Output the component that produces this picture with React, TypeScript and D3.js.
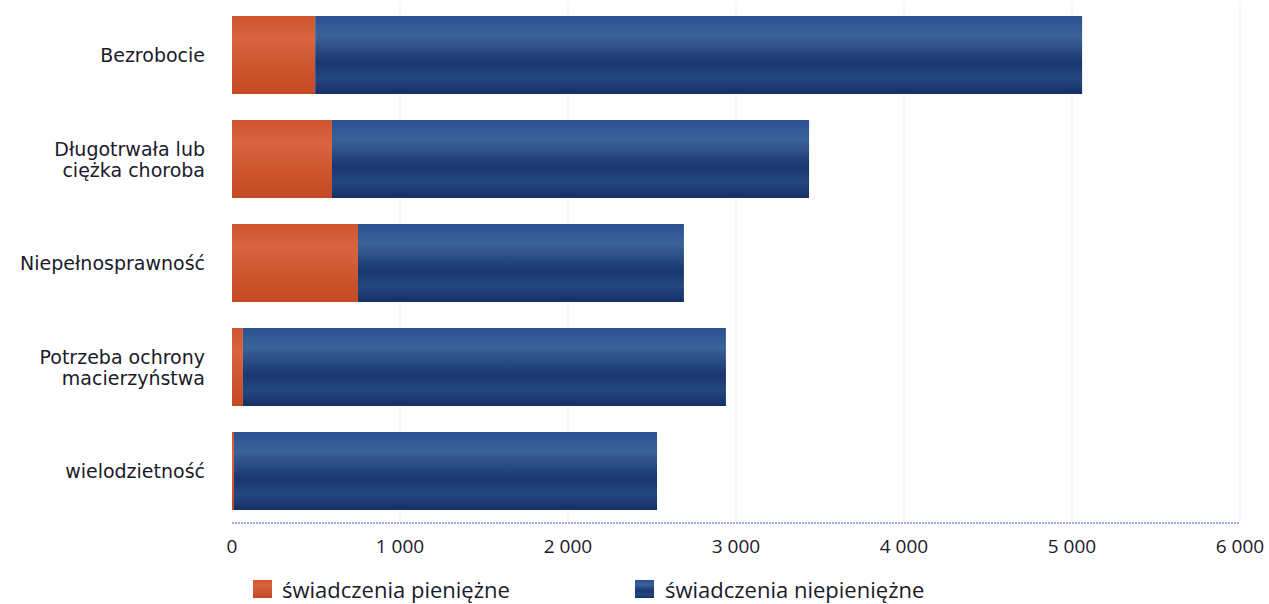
import React from "react";
import * as d3 from "d3";

const categories = ["Bezrobocie", "Długotrwała lub\nciężka choroba", "Niepełnosprawność", "Potrzeba ochrony\nmacierzyństwa", "wielodzietność"];
const cashValues = [495, 595, 750, 65, 12];
const nonCashValues = [4565, 2840, 1940, 2875, 2518];
const tickValues = [0, 1000, 2000, 3000, 4000, 5000, 6000];
const seriesNames = ["świadczenia pieniężne", "świadczenia niepieniężne"];

const W = 1269, H = 604;
const margin = { left: 232, right: 29, top: 3, bottom: 81 };

export default function App() {
  const x = d3.scaleLinear().domain([0, 6000]).range([margin.left, W - margin.right]);
  const y = d3.scaleBand<string>().domain(categories).range([margin.top, H - margin.bottom]).paddingInner(0.25).paddingOuter(0.125);
  const fmt = (v: number) => (v === 0 ? "0" : d3.format(",")(v).replace(/,/g, " "));
  const baseY = H - margin.bottom;
  return (
    <svg width={W} height={H} style={{ position: "absolute", left: 0, top: 0, background: "#fff" }}>
      <defs>
        <linearGradient id="gBlue" x1="0" y1="0" x2="0" y2="1">
          <stop offset="0" stopColor="#2a5190" />
          <stop offset="0.25" stopColor="#3a6399" />
          <stop offset="0.6" stopColor="#1a3571" />
          <stop offset="0.8" stopColor="#23477f" />
          <stop offset="1" stopColor="#172e66" />
        </linearGradient>
        <linearGradient id="gOrange" x1="0" y1="0" x2="0" y2="1">
          <stop offset="0" stopColor="#cf552e" />
          <stop offset="0.3" stopColor="#d86540" />
          <stop offset="0.7" stopColor="#cc532d" />
          <stop offset="1" stopColor="#c44a26" />
        </linearGradient>
      </defs>
      {tickValues.slice(1).map((t) => (
        <line key={t} x1={x(t)} x2={x(t)} y1={margin.top} y2={baseY} stroke="#efefef" strokeWidth={1} />
      ))}
      {categories.map((c, i) => {
        const y0 = y(c)!;
        const bh = y.bandwidth();
        const lines = c.split("\n");
        const cy = y0 + bh / 2;
        return (
          <g key={c}>
            <rect x={x(0)} y={y0} width={x(cashValues[i]) - x(0)} height={bh} fill="url(#gOrange)" />
            <rect x={x(cashValues[i])} y={y0} width={x(cashValues[i] + nonCashValues[i]) - x(cashValues[i])} height={bh} fill="url(#gBlue)" />
            <text textAnchor="end" fontFamily="DejaVu Sans, Verdana, sans-serif" fontSize={19} fill="#1a1a2a">
              {lines.map((l, j) => (
                <tspan key={j} x={205} y={cy + 7 + (j - (lines.length - 1) / 2) * 21}>{l}</tspan>
              ))}
            </text>
          </g>
        );
      })}
      <line x1={x(0)} x2={x(6000)} y1={baseY} y2={baseY} stroke="#3b5bd6" strokeWidth={1} strokeDasharray="2,1" />
      {tickValues.map((t) => (
        <text key={t} x={x(t)} y={553} textAnchor="middle" fontFamily="Open Sans, sans-serif" fontSize={19} fill="#1a1a2a">{fmt(t)}</text>
      ))}
      <rect x={253} y={580} width={19} height={18} fill="url(#gOrange)" />
      <text x={282} y={598} fontFamily="Open Sans, sans-serif" fontSize={22} fill="#1a1a2a">{seriesNames[0]}</text>
      <rect x={635} y={580} width={19} height={18} fill="url(#gBlue)" />
      <text x={665} y={598} fontFamily="Open Sans, sans-serif" fontSize={22} fill="#1a1a2a">{seriesNames[1]}</text>
    </svg>
  );
}
